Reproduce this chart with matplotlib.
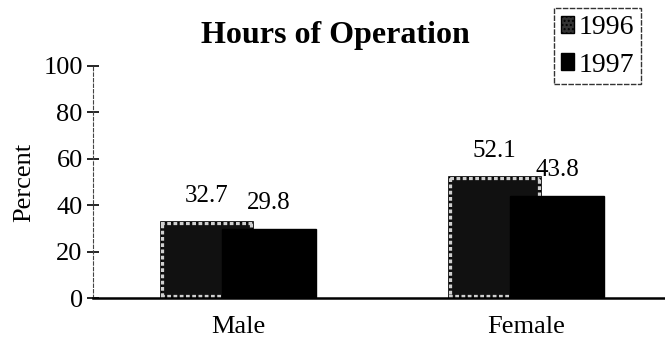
import matplotlib
matplotlib.use("Agg")
import matplotlib.pyplot as plt
import numpy as np
from matplotlib.patches import Patch

plt.rcParams['font.family'] = ['Liberation Serif', 'DejaVu Serif']
plt.rcParams['hatch.color'] = '#9a9a9a'
plt.rcParams['hatch.linewidth'] = 1.0

categories = ['Male', 'Female']
years = ['1996', '1997']
pct_1996 = [32.7, 52.1]
pct_1997 = [29.8, 43.8]
yticks = [0, 20, 40, 60, 80, 100]

fig = plt.figure(figsize=(6.65, 3.52), dpi=100)
ax = fig.add_axes([0.14, 0.153, 0.86, 0.66])

x = np.arange(len(categories))
w = 0.32
off = 0.108

# 1996: black bar with a light stippled frame inside the outline
b96 = ax.bar(x - off, pct_1996, w, color='#111111', edgecolor='black',
             linewidth=1.2, zorder=2)
frame = ax.bar(x - off, pct_1996, w, color='none', edgecolor='#d0d0d0',
               linewidth=4.5, linestyle=(0, (0.6, 0.4)), zorder=3)
for p in frame:
    p.set_clip_path(p.get_path(), p.get_transform())
# 1997: solid black, drawn over the 1996 bar
b97 = ax.bar(x + off, pct_1997, w + 0.005, color='black', edgecolor='black',
             linewidth=1, zorder=4)

for xs, vals in ((x - off, pct_1996), (x + off, pct_1997)):
    for xi, v in zip(xs, vals):
        ax.annotate(f'{v:.1f}', (xi, v), xytext=(0, 19), textcoords='offset points',
                    ha='center', va='center', fontsize=18)

ax.set_xlim(-0.503, 1.483)
ax.set_ylim(0, 100)
ax.set_yticks(yticks)
ax.set_xticks(x)
ax.set_xticklabels(categories, fontsize=19)
ax.tick_params(axis='x', length=0, pad=13)
ax.tick_params(axis='y', direction='inout', length=9, width=1.2, labelsize=19, pad=3)
ax.set_ylabel('Percent', fontsize=19, labelpad=6)

for s in ('top', 'right'):
    ax.spines[s].set_visible(False)
ax.spines['left'].set_linestyle((0, (3, 2)))
ax.spines['left'].set_linewidth(0.8)
ax.spines['left'].set_color('#444444')
ax.spines['bottom'].set_linewidth(1.8)
ax.spines['bottom'].set_zorder(5)

fig.text(0.505, 0.9, 'Hours of Operation', ha='center', va='center',
         fontsize=23, fontweight='bold')

handles = [Patch(facecolor='#333333', edgecolor='black', hatch='....'),
           Patch(facecolor='black', edgecolor='black')]
leg = fig.legend(handles, years, loc='upper right', bbox_to_anchor=(0.964, 0.977),
                 fontsize=20, frameon=True, fancybox=False, edgecolor='black',
                 handlelength=0.5, handleheight=0.55, handletextpad=0.15,
                 borderpad=0.25, labelspacing=0.45, borderaxespad=0)
leg.get_frame().set_linewidth(1.0)
leg.get_frame().set_linestyle((0, (4, 1)))

fig.savefig('out.png', dpi=100)
